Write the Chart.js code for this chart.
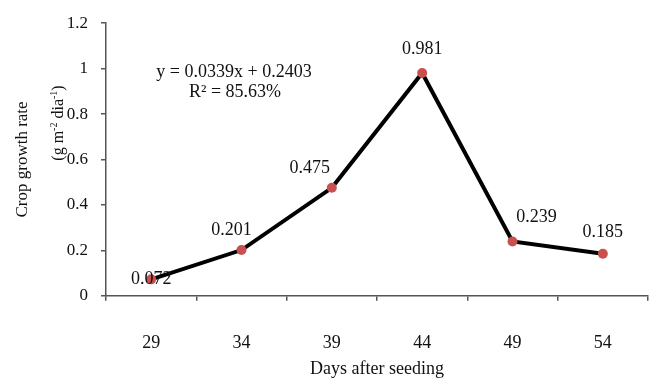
<!DOCTYPE html>
<html>
<head>
<meta charset="utf-8">
<script src="https://cdn.jsdelivr.net/npm/chart.js@4.4.1/dist/chart.umd.min.js"></script>
<style>
  html, body { margin: 0; padding: 0; background: #fff; }
  #wrap { width: 654px; height: 380px; }
</style>
</head>
<body>
<div id="wrap"><canvas id="cgr" width="654" height="380"></canvas></div>
<script>
// Crop growth rate against days after seeding
const days = ['29', '34', '39', '44', '49', '54'];
const growthRate = [0.072, 0.201, 0.475, 0.981, 0.239, 0.185];
const yMin = 0, yMax = 1.2, yStep = 0.2;
const equationText = ['y = 0.0339x + 0.2403', 'R\u00B2 = 85.63%'];
const xTitle = 'Days after seeding';
const yTitle = 'Crop growth rate';

const serif = "'Liberation Serif', 'Times New Roman', serif";
const ink = '#111';
const axisColor = '#555';
const dotColor = '#c9504f';

// where each value label sits relative to its point (px)
const labelShift = [[0, 0], [-10, -20], [-22, -20], [0, -24], [24, -24], [0, -21]];

const extrasPlugin = {
  id: 'extras',
  afterDatasetsDraw(chart) {
    const ctx = chart.ctx;
    const meta = chart.getDatasetMeta(0);
    ctx.save();
    ctx.fillStyle = ink;
    ctx.font = '18px ' + serif;
    ctx.textAlign = 'center';
    ctx.textBaseline = 'middle';
    meta.data.forEach((pt, i) => {
      const [dx, dy] = labelShift[i];
      ctx.fillText(growthRate[i].toFixed(3), pt.x + dx, pt.y + dy);
    });

    // regression note
    ctx.fillText(equationText[0], 234, 72);
    ctx.fillText(equationText[1], 235, 92);

    // unit line under the y title, with superscripts
    const parts = [['(g m', false], ['-2', true], [' dia', false], ['-1', true], [')', false]];
    ctx.translate(59, 123);
    ctx.rotate(-Math.PI / 2);
    ctx.textAlign = 'left';
    let total = 0;
    parts.forEach(([t, sup]) => {
      ctx.font = (sup ? '10px ' : '16px ') + serif;
      total += ctx.measureText(t).width;
    });
    let x = -total / 2;
    parts.forEach(([t, sup]) => {
      ctx.font = (sup ? '10px ' : '16px ') + serif;
      ctx.fillText(t, x, sup ? -5 : 0);
      x += ctx.measureText(t).width;
    });
    ctx.restore();
  }
};

new Chart(document.getElementById('cgr'), {
  type: 'line',
  data: {
    labels: days,
    datasets: [{
      data: growthRate,
      borderColor: '#000',
      borderWidth: 4,
      tension: 0,
      pointRadius: 5,
      pointHoverRadius: 5,
      pointBackgroundColor: dotColor,
      pointBorderColor: dotColor,
      pointBorderWidth: 0,
      clip: false
    }]
  },
  options: {
    responsive: false,
    animation: false,
    layout: { padding: { left: 0, right: 6, top: 21, bottom: 0 } },
    plugins: {
      legend: { display: false },
      tooltip: { enabled: false }
    },
    scales: {
      x: {
        offset: true,
        grid: { offset: true, drawOnChartArea: false, tickLength: 5, color: axisColor, lineWidth: 1.5 },
        border: { color: axisColor, width: 1.5 },
        ticks: { color: ink, font: { family: serif, size: 18 }, padding: 32 },
        title: {
          display: true, text: xTitle, color: ink,
          font: { family: serif, size: 18 },
          padding: { top: 0, bottom: 0 }
        },
        afterFit(scale) { scale.height = 84.3; }
      },
      y: {
        min: yMin,
        max: yMax,
        grid: { drawOnChartArea: false, tickLength: 5, color: axisColor, lineWidth: 1.5 },
        border: { color: axisColor, width: 1.5 },
        ticks: {
          stepSize: yStep, color: ink, font: { family: serif, size: 17 }, padding: 13,
          callback: v => String(+v.toFixed(1))
        },
        title: {
          display: true, text: yTitle, color: ink,
          font: { family: serif, size: 17 },
          padding: { top: 12, bottom: 0 }
        },
        afterFit(scale) { scale.width = 106; }
      }
    }
  },
  plugins: [extrasPlugin]
});
</script>
</body>
</html>
